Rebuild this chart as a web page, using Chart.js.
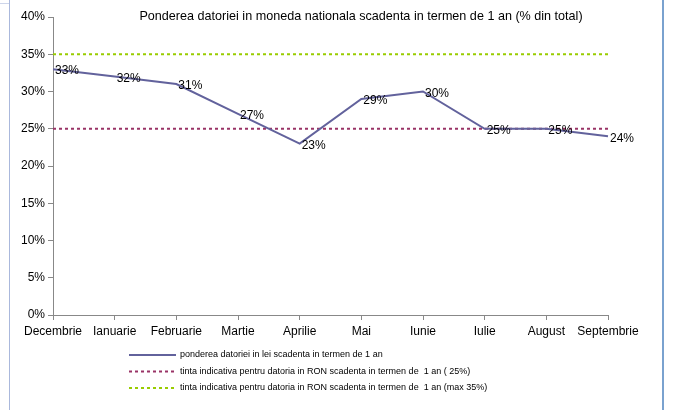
<!DOCTYPE html>
<html>
<head>
<meta charset="utf-8">
<script src="https://cdn.jsdelivr.net/npm/chart.js@4"></script>
<style>
  html, body { margin: 0; padding: 0; background: #fff; }
  #wrap { position: relative; width: 673px; height: 410px; }
  #frameL { position: absolute; left: 9px; top: 0; width: 1px; height: 410px; background: #aab8dc; }
  #frameR { position: absolute; left: 662px; top: 0; width: 2px; height: 410px; background: #7aa2cf; }
  #frameT { position: absolute; left: 0; top: 3px; width: 9px; height: 1px; background: #cdd5ea; }
  #chart { position: absolute; left: 0; top: 0; }
</style>
</head>
<body>
<div id="wrap">
  <canvas id="chart" width="673" height="410"></canvas>
  <div id="frameL"></div>
  <div id="frameR"></div>
  <div id="frameT"></div>
</div>
<script>
const months = ["Decembrie", "Ianuarie", "Februarie", "Martie", "Aprilie", "Mai", "Iunie", "Iulie", "August", "Septembrie"];
const share = [33, 32, 31, 27, 23, 29, 30, 25, 25, 24];
const target25 = [25, 25, 25, 25, 25, 25, 25, 25, 25, 25];
const target35 = [35, 35, 35, 35, 35, 35, 35, 35, 35, 35];
const yTicks = [0, 5, 10, 15, 20, 25, 30, 35, 40];

const title = "Ponderea datoriei in moneda nationala scadenta in termen de 1 an (% din total)";
const seriesNames = [
  "ponderea datoriei in lei scadenta in termen de 1 an",
  "tinta indicativa pentru datoria in RON scadenta in termen de  1 an ( 25%)",
  "tinta indicativa pentru datoria in RON scadenta in termen de  1 an (max 35%)"
];

const font = "Arial, 'Liberation Sans', sans-serif";

// labels, title and legend drawn by hand
const extras = {
  id: "extras",
  afterDatasetsDraw(chart) {
    const ctx = chart.ctx;
    const area = chart.chartArea;
    const meta = chart.getDatasetMeta(0);
    ctx.save();
    ctx.fillStyle = "#000";
    ctx.font = "12px " + font;
    ctx.textAlign = "left";
    ctx.textBaseline = "middle";
    meta.data.forEach((pt, i) => {
      ctx.fillText(Math.round(share[i]) + "%", pt.x + 2, pt.y + 2);
    });

    ctx.font = "12.6px " + font;
    ctx.textAlign = "center";
    ctx.fillText(title, 361, area.top);

    ctx.font = "9px " + font;
    ctx.textAlign = "left";
    chart.data.datasets.forEach((ds, i) => {
      const y = 355 + i * 16.5;
      ctx.strokeStyle = ds.borderColor;
      ctx.lineWidth = 2;
      ctx.setLineDash(ds.borderDash || []);
      ctx.beginPath();
      ctx.moveTo(129, y);
      ctx.lineTo(176, y);
      ctx.stroke();
      ctx.setLineDash([]);
      ctx.fillText(ds.label, 180, y);
    });
    ctx.restore();
  }
};

new Chart(document.getElementById("chart"), {
  type: "line",
  data: {
    labels: months,
    datasets: [
      {
        label: seriesNames[0],
        data: share,
        borderColor: "#62629c",
        borderWidth: 2,
        pointRadius: 0,
        tension: 0,
        order: 0
      },
      {
        label: seriesNames[1],
        data: target25,
        borderColor: "#993366",
        borderWidth: 2,
        borderDash: [3, 3],
        pointRadius: 0,
        order: 1
      },
      {
        label: seriesNames[2],
        data: target35,
        borderColor: "#99cc00",
        borderWidth: 2,
        borderDash: [3, 3],
        pointRadius: 0,
        order: 2
      }
    ]
  },
  options: {
    responsive: false,
    animation: false,
    layout: { padding: { left: 0, top: 17, right: 65, bottom: 65 } },
    plugins: {
      legend: { display: false },
      title: { display: false },
      tooltip: { enabled: false }
    },
    scales: {
      x: {
        offset: false,
        grid: { display: true, drawOnChartArea: false, drawTicks: true, tickLength: 5, color: "#888" },
        border: { color: "#888" },
        ticks: { color: "#000", font: { size: 12, family: font }, padding: 4, maxRotation: 0, autoSkip: false },
        afterFit(scale) { scale.height = 30; }
      },
      y: {
        min: 0,
        max: 40,
        afterBuildTicks(scale) { scale.ticks = yTicks.map(v => ({ value: v })); },
        grid: { display: true, drawOnChartArea: false, drawTicks: true, tickLength: 5, color: "#888" },
        border: { color: "#888" },
        ticks: { color: "#000", font: { size: 12, family: font }, padding: 3, callback: v => v + "%" },
        afterFit(scale) { scale.width = 53; }
      }
    }
  },
  plugins: [extras]
});
</script>
</body>
</html>
